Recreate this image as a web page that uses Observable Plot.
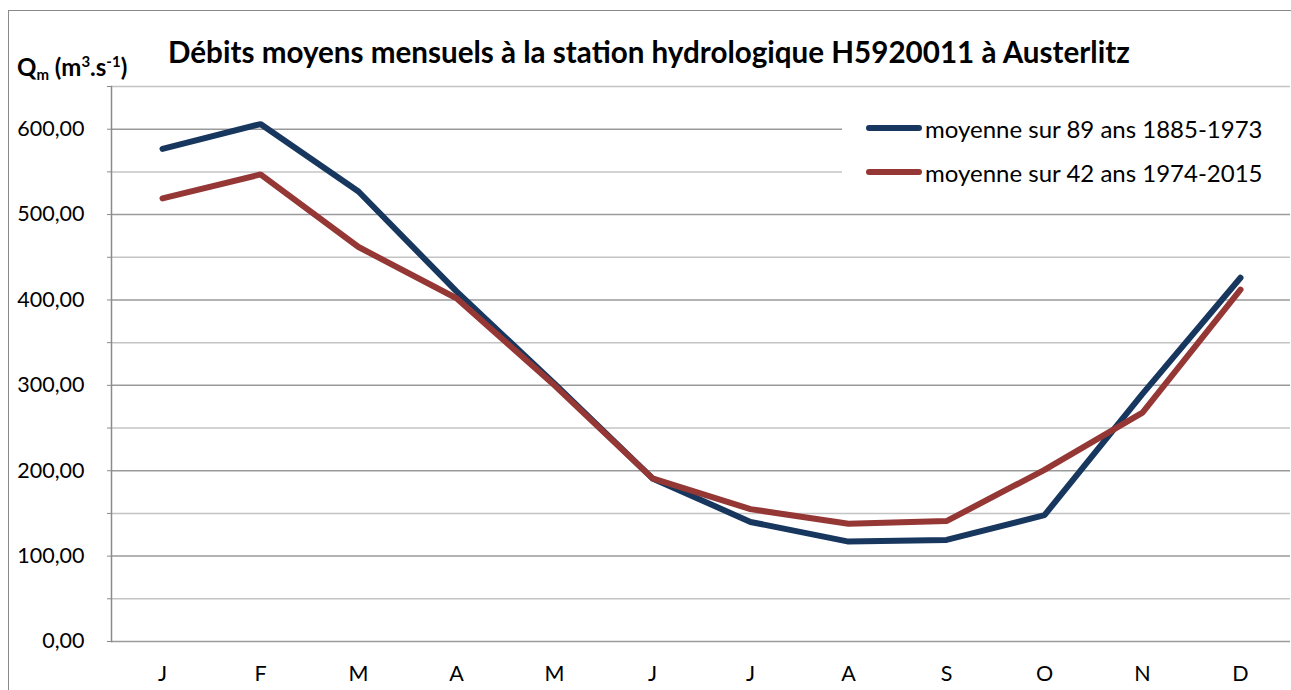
<!DOCTYPE html>
<html><head><meta charset="utf-8">
<script src="https://cdn.jsdelivr.net/npm/d3@7"></script>
<script src="https://cdn.jsdelivr.net/npm/@observablehq/plot@0.6"></script>
<style>
html,body{margin:0;padding:0;background:#fff;}
body{width:1291px;height:690px;overflow:hidden;font-family:Lato,"Open Sans",sans-serif;}
#wrap{position:relative;width:1291px;height:690px;overflow:hidden;}
#frame{position:absolute;left:8px;top:10px;width:1400px;height:800px;border-left:1.5px solid #8a8a8a;border-top:1.5px solid #8a8a8a;}
#chart{position:absolute;left:0;top:0;}
#title{position:absolute;left:168px;top:34px;font-weight:bold;font-size:29.6px;line-height:36px;color:#000;white-space:nowrap;}
#ylab{position:absolute;left:17px;top:52px;font-weight:bold;font-size:24px;line-height:30px;color:#000;white-space:nowrap;}
#ylab sub{font-size:15px;vertical-align:-4px;line-height:0;}
#ylab sup{font-size:15px;vertical-align:9px;line-height:0;}
#legend{position:absolute;left:842px;top:102px;width:449px;height:94px;background:#fff;}
.item{position:absolute;left:24px;height:30px;display:flex;align-items:center;white-space:nowrap;font-size:24px;color:#000;}
.sw{width:56px;height:6px;border-radius:3px;margin-right:3px;}
</style></head>
<body><div id="wrap"><div id="frame"></div><div id="chart"></div>
<div id="title"></div><div id="ylab">Q<sub>m</sub> (m<sup>3</sup>.s<sup>-1</sup>)</div><div id="legend"></div></div>
<script>
const months = ["J","F","M","A","M","J","J","A","S","O","N","D"];
const seriesNames = ["moyenne sur 89 ans 1885-1973","moyenne sur 42 ans 1974-2015"];
const blueValues = [577,606,527,410,302,191,140,117,119,148,290,426];
const redValues  = [519,547,462,402,300,191,155,138,141,201,268,412];
const colors = ["#17375E","#953735"];
const yMajor = [0,100,200,300,400,500,600];
const yMinor = [50,150,250,350,450,550,650];
const title = "Débits moyens mensuels à la station hydrologique H5920011 à Austerlitz";

document.getElementById("title").textContent = title;

const data = [];
[blueValues, redValues].forEach((vals, k) => vals.forEach((v, i) => data.push({i, v, s: seriesNames[k]})));

const plot = Plot.plot({
  width: 1291, height: 690,
  marginLeft: 111, marginRight: 1, marginTop: 86, marginBottom: 49,
  style: {fontFamily: "Lato, 'Open Sans', sans-serif", fontSize: "21.5px", color: "#000", background: "transparent"},
  x: {type: "point", domain: d3.range(12), padding: 0.5, label: null},
  y: {domain: [0, 650], label: null},
  color: {domain: seriesNames, range: colors},
  marks: [
    Plot.ruleY(yMinor, {stroke: "#c4c4c4", strokeWidth: 1.5}),
    Plot.ruleY(yMajor, {stroke: "#9a9a9a", strokeWidth: 1.5}),
    Plot.frame({anchor: "left", stroke: "#8a8a8a", strokeWidth: 1.5}),
    Plot.axisY({ticks: [...yMajor, ...yMinor], tickSize: 4, tickPadding: 23, stroke: "#8a8a8a",
      tickFormat: d => d % 100 === 0 ? d.toFixed(2).replace(".", ",") : "", fontSize: 21.5}),
    Plot.axisX({tickSize: 0, tickPadding: 24, tickFormat: i => months[i], fontSize: 21.5}),
    Plot.line(data, {x: "i", y: "v", stroke: "s", z: "s", strokeWidth: 6, strokeLinecap: "round", strokeLinejoin: "miter"})
  ]
});
document.getElementById("chart").appendChild(plot);

const leg = document.getElementById("legend");
seriesNames.forEach((n, k) => {
  const it = document.createElement("div");
  it.className = "item";
  it.style.top = (k === 0 ? 11 : 55) + "px";
  it.innerHTML = `<div class="sw" style="background:${colors[k]}"></div><span>${n}</span>`;
  leg.appendChild(it);
});
</script></body></html>
